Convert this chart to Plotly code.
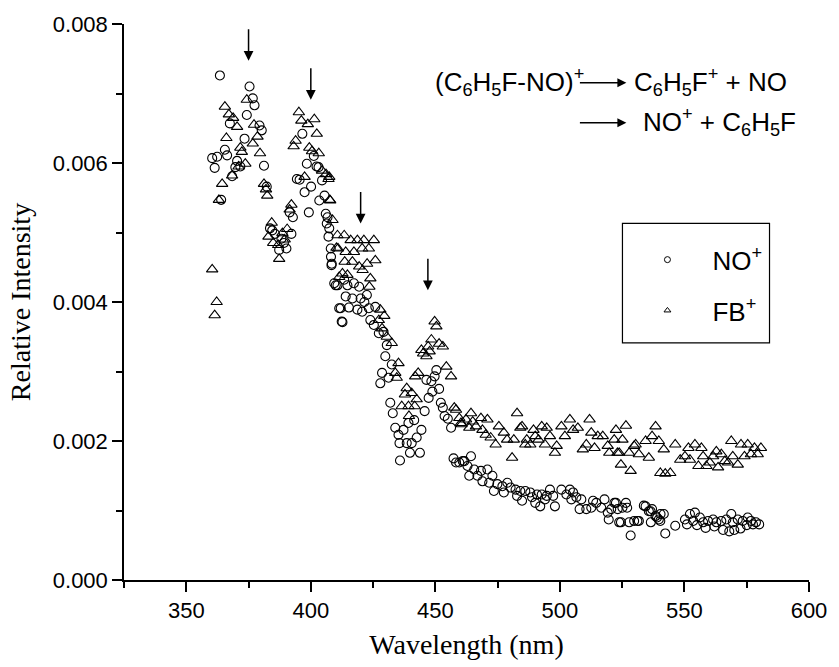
import plotly.graph_objects as go

# NO+ (circles): wavelength (nm), relative intensity
no_x = [360.4, 361.4, 362.4, 363.5, 364.0, 365.5, 366.4, 367.5, 368.4, 369.7, 370.4, 371.7, 373.4, 374.3,
        375.4, 376.7, 377.4, 379.4, 380.3, 381.2, 382.3, 383.6, 384.5, 385.6, 387.3, 388.2, 389.2, 390.2,
        391.5, 392.2, 392.8, 394.4, 395.5, 396.6, 397.5, 398.4, 399.2, 400.1, 401.2, 402.3, 403.1, 403.4,
        404.5, 405.5, 406.0, 406.4, 406.7, 407.1, 407.4, 408.0, 408.1, 408.3, 408.4, 409.4, 410.0, 410.7,
        411.4, 412.0, 412.4, 412.7, 413.4, 414.0, 414.7, 415.3, 416.7, 417.3, 418.7, 419.4, 420.0, 420.6,
        421.5, 422.5, 423.3, 423.9, 425.3, 425.9, 427.3, 427.9, 428.6, 429.2, 429.9, 430.5, 431.2, 431.9,
        432.5, 432.9, 433.9, 435.2, 435.6, 435.8, 437.2, 438.5, 439.2, 439.8, 440.5, 441.5, 442.5, 443.8,
        444.4, 445.7, 446.4, 447.3, 448.4, 448.8, 449.7, 450.4, 451.5, 452.2, 453.0, 453.7, 455.0, 456.3,
        457.3, 458.3, 459.6, 461.0, 461.6, 462.9, 463.6, 464.3, 465.6, 466.9, 468.3, 468.9, 470.9, 471.6,
        472.9, 473.5, 474.9, 476.9, 477.5, 478.9, 480.2, 482.2, 482.8, 484.1, 484.8, 486.1, 488.1, 488.8,
        490.1, 490.8, 492.1, 492.7, 494.0, 494.7, 496.0, 497.3, 498.0, 500.6, 502.6, 504.0, 504.6, 505.3,
        506.6, 507.9, 508.6, 510.6, 512.6, 513.3, 514.6, 516.6, 517.9, 519.2, 519.6, 520.6, 521.9, 522.5,
        523.2, 523.8, 524.5, 525.1, 526.5, 527.0, 527.8, 528.4, 529.8, 531.1, 531.7, 533.7, 534.4, 535.7,
        536.4, 536.5, 537.0, 538.4, 539.0, 539.7, 540.3, 540.4, 541.7, 542.3, 546.3, 550.2, 551.0, 552.2,
        553.5, 554.2, 555.0, 556.2, 557.5, 558.5, 559.5, 561.5, 562.0, 562.8, 564.8, 565.5, 566.8, 568.0,
        568.8, 569.4, 570.0, 571.4, 572.5, 573.4, 575.0, 575.4, 576.7, 577.5, 578.7, 580.0]
no_y = [0.00607, 0.00593, 0.00609, 0.00726, 0.00547, 0.00619, 0.00611, 0.00657, 0.00581, 0.00594, 0.00603,
        0.00595, 0.00635, 0.00669, 0.00710, 0.00693, 0.00683, 0.00654, 0.00647, 0.00596, 0.00566, 0.00506,
        0.00503, 0.00498, 0.00475, 0.00491, 0.00485, 0.00477, 0.00529, 0.00498, 0.00522, 0.00577, 0.00576,
        0.00642, 0.00558, 0.00599, 0.00529, 0.00566, 0.00610, 0.00595, 0.00594, 0.00546, 0.00575, 0.00553,
        0.00527, 0.00513, 0.00522, 0.00494, 0.00506, 0.00477, 0.00465, 0.00453, 0.00455, 0.00427, 0.00424,
        0.00424, 0.00391, 0.00391, 0.00372, 0.00371, 0.00432, 0.00408, 0.00424, 0.00392, 0.00405, 0.00427,
        0.00389, 0.00422, 0.00405, 0.00386, 0.00400, 0.00410, 0.00391, 0.00374, 0.00367, 0.00393, 0.00355,
        0.00283, 0.00298, 0.00357, 0.00322, 0.00338, 0.00291, 0.00255, 0.00310, 0.00240, 0.00219, 0.00209,
        0.00197, 0.00172, 0.00216, 0.00197, 0.00226, 0.00183, 0.00197, 0.00230, 0.00205, 0.00183, 0.00216,
        0.00243, 0.00288, 0.00262, 0.00286, 0.00271, 0.00293, 0.00302, 0.00275, 0.00255, 0.00248, 0.00236,
        0.00232, 0.00219, 0.00175, 0.00169, 0.00169, 0.00171, 0.00171, 0.00164, 0.00150, 0.00178, 0.00159,
        0.00150, 0.00157, 0.00142, 0.00159, 0.00140, 0.00150, 0.00128, 0.00138, 0.00135, 0.00126, 0.00140,
        0.00133, 0.00130, 0.00121, 0.00128, 0.00114, 0.00128, 0.00126, 0.00119, 0.00111, 0.00123, 0.00106,
        0.00123, 0.00116, 0.00121, 0.00130, 0.00121, 0.00106, 0.00130, 0.00123, 0.00130, 0.00116, 0.00126,
        0.00119, 0.00102, 0.00116, 0.00102, 0.00104, 0.00114, 0.00111, 0.00104, 0.00116, 0.00097, 0.00087,
        0.00102, 0.00111, 0.00111, 0.00102, 0.00083, 0.00083, 0.00104, 0.00111, 0.00104, 0.00083, 0.00064,
        0.00085, 0.00085, 0.00085, 0.00107, 0.00106, 0.00099, 0.00099, 0.00083, 0.00102, 0.00092, 0.00090,
        0.00087, 0.00085, 0.00095, 0.00095, 0.00067, 0.00078, 0.00087, 0.00080, 0.00095, 0.00085, 0.00097,
        0.00079, 0.00090, 0.00083, 0.00075, 0.00085, 0.00087, 0.00077, 0.00083, 0.00085, 0.00072, 0.00087,
        0.00070, 0.00095, 0.00083, 0.00072, 0.00087, 0.00074, 0.00085, 0.00079, 0.00090, 0.00085, 0.00080,
        0.00083, 0.00080]

# FB+ (triangles)
fb_x = [360.4, 361.4, 362.2, 363.1, 364.4, 365.5, 366.1, 367.1, 368.4, 368.8, 370.4, 371.0, 371.7, 372.3,
        373.7, 374.3, 376.7, 377.2, 378.6, 379.6, 381.2, 382.0, 382.5, 383.0, 384.3, 384.9, 386.9, 387.3,
        388.6, 389.5, 390.5, 391.5, 392.2, 393.1, 393.9, 395.2, 396.2, 397.5, 398.8, 399.4, 400.5, 401.4,
        402.4, 403.2, 404.5, 406.1, 407.1, 407.4, 407.6, 407.8, 408.7, 410.3, 410.7, 410.9, 411.4, 412.7,
        413.4, 413.6, 414.0, 414.7, 416.0, 416.7, 417.3, 418.7, 419.4, 420.6, 420.8, 421.3, 422.6, 423.3,
        423.5, 423.9, 425.3, 425.9, 427.3, 427.9, 428.6, 429.5, 430.5, 432.5, 433.9, 434.5, 435.2, 436.5,
        437.8, 438.5, 439.2, 439.4, 440.5, 441.7, 441.9, 442.5, 443.1, 444.4, 445.1, 446.4, 447.1, 447.7,
        448.4, 449.7, 450.4, 451.5, 453.0, 454.4, 456.3, 457.6, 458.3, 459.6, 460.3, 460.5, 462.3, 463.6,
        464.3, 465.0, 466.3, 468.3, 468.9, 470.2, 470.9, 472.2, 474.2, 475.5, 477.5, 478.8, 480.8, 481.5,
        482.8, 484.1, 484.8, 486.1, 486.7, 488.1, 489.4, 490.1, 491.4, 492.7, 494.0, 494.7, 496.0, 498.0,
        498.7, 500.6, 502.0, 504.0, 505.3, 507.2, 509.2, 510.6, 511.9, 512.6, 513.9, 515.2, 517.2, 519.2,
        519.8, 521.8, 522.5, 523.1, 523.8, 524.5, 525.1, 526.5, 527.8, 528.4, 529.8, 530.4, 531.7, 534.4,
        535.7, 537.0, 538.4, 539.7, 540.3, 541.7, 542.3, 544.3, 546.3, 548.3, 550.2, 551.6, 552.2, 554.2,
        555.6, 556.8, 557.5, 558.8, 560.2, 561.5, 562.8, 563.5, 564.8, 566.2, 567.5, 568.8, 569.4, 571.4,
        572.7, 574.1, 575.4, 576.7, 578.1, 579.4, 580.7]
fb_y = [0.00447, 0.00381, 0.00400, 0.00547, 0.00570, 0.00681, 0.00636, 0.00670, 0.00582, 0.00665, 0.00652,
        0.00595, 0.00622, 0.00616, 0.00599, 0.00691, 0.00628, 0.00655, 0.00638, 0.00614, 0.00570, 0.00562,
        0.00553, 0.00494, 0.00514, 0.00485, 0.00482, 0.00462, 0.00499, 0.00490, 0.00505, 0.00533, 0.00540,
        0.00624, 0.00632, 0.00673, 0.00661, 0.00580, 0.00656, 0.00622, 0.00617, 0.00663, 0.00642, 0.00614,
        0.00589, 0.00584, 0.00577, 0.00580, 0.00547, 0.00546, 0.00518, 0.00478, 0.00496, 0.00477, 0.00436,
        0.00441, 0.00496, 0.00458, 0.00472, 0.00439, 0.00489, 0.00458, 0.00472, 0.00489, 0.00451, 0.00477,
        0.00446, 0.00489, 0.00455, 0.00477, 0.00422, 0.00434, 0.00489, 0.00460, 0.00374, 0.00389, 0.00362,
        0.00380, 0.00350, 0.00341, 0.00298, 0.00291, 0.00312, 0.00250, 0.00267, 0.00276, 0.00250, 0.00236,
        0.00269, 0.00250, 0.00293, 0.00260, 0.00298, 0.00331, 0.00326, 0.00322, 0.00336, 0.00329, 0.00346,
        0.00372, 0.00365, 0.00340, 0.00336, 0.00307, 0.00293, 0.00248, 0.00245, 0.00233, 0.00226, 0.00224,
        0.00231, 0.00219, 0.00240, 0.00228, 0.00221, 0.00233, 0.00216, 0.00209, 0.00231, 0.00205, 0.00195,
        0.00221, 0.00212, 0.00202, 0.00176, 0.00202, 0.00240, 0.00219, 0.00221, 0.00195, 0.00202, 0.00195,
        0.00216, 0.00207, 0.00202, 0.00221, 0.00195, 0.00219, 0.00207, 0.00183, 0.00193, 0.00221, 0.00207,
        0.00231, 0.00216, 0.00219, 0.00188, 0.00195, 0.00231, 0.00212, 0.00190, 0.00207, 0.00207, 0.00193,
        0.00183, 0.00202, 0.00216, 0.00183, 0.00183, 0.00166, 0.00202, 0.00222, 0.00183, 0.00157, 0.00193,
        0.00195, 0.00181, 0.00200, 0.00176, 0.00207, 0.00221, 0.00200, 0.00154, 0.00188, 0.00153, 0.00154,
        0.00195, 0.00173, 0.00178, 0.00190, 0.00173, 0.00195, 0.00164, 0.00190, 0.00178, 0.00164, 0.00169,
        0.00178, 0.00185, 0.00162, 0.00181, 0.00171, 0.00169, 0.00200, 0.00178, 0.00166, 0.00195, 0.00178,
        0.00195, 0.00181, 0.00190, 0.00181, 0.00190]

# peak markers (arrows)
arrow_x = [375, 400, 420, 447]
arrow_y = [0.00747, 0.00691, 0.00513, 0.00417]

x_ticks = [350, 400, 450, 500, 550, 600]
y_ticks = [0.000, 0.002, 0.004, 0.006, 0.008]
series_names = ["NO<sup>+</sup>", "FB<sup>+</sup>"]

SANS = "Liberation Sans, Arial, sans-serif"
SERIF = "Liberation Serif, Times New Roman, serif"

fig = go.Figure()
fig.add_trace(go.Scatter(x=no_x, y=no_y, mode="markers", showlegend=False,
                         marker=dict(symbol="circle-open", size=9, color="black", line=dict(width=1.1))))
fig.add_trace(go.Scatter(x=fb_x, y=fb_y, mode="markers", showlegend=False,
                         marker=dict(symbol="triangle-up-open", size=10, color="black", line=dict(width=1.1))))
# legend-only entries with the small legend symbols
fig.add_trace(go.Scatter(x=[None], y=[None], mode="markers", name=series_names[0], legendgroup="a",
                         marker=dict(symbol="circle-open", size=6, color="black", line=dict(width=1))))
fig.add_trace(go.Scatter(x=[None], y=[None], mode="markers", name=series_names[1], legendgroup="b",
                         marker=dict(symbol="triangle-up-open", size=6, color="black", line=dict(width=1))))

for ax_, ay_ in zip(arrow_x, arrow_y):
    fig.add_annotation(x=ax_, y=ay_, xref="x", yref="y", text="", showarrow=True,
                       ax=0, ay=-33, arrowhead=2, arrowsize=1.3, arrowwidth=1.5, arrowcolor="black")

W_PLOT = 694.0
H_PLOT = 558.0
def px(xp):
    return (xp - 124) / W_PLOT
def py(yp):
    return (581 - yp) / H_PLOT

txt_font = dict(family=SANS, size=26, color="black")
fig.add_annotation(x=px(437), y=py(81), xref="paper", yref="paper", xanchor="left", yanchor="middle",
                   text="(C<sub>6</sub>H<sub>5</sub>F-NO)<sup>+</sup>", showarrow=False, font=txt_font)
fig.add_annotation(x=px(633), y=py(82), xref="paper", yref="paper", text="", showarrow=True,
                   ax=-48, ay=0, arrowhead=2, arrowsize=1.2, arrowwidth=1.5, arrowcolor="black")
fig.add_annotation(x=px(639), y=py(81), xref="paper", yref="paper", xanchor="left", yanchor="middle",
                   text="C<sub>6</sub>H<sub>5</sub>F<sup>+</sup> + NO", showarrow=False, font=txt_font)
fig.add_annotation(x=px(633), y=py(122), xref="paper", yref="paper", text="", showarrow=True,
                   ax=-48, ay=0, arrowhead=2, arrowsize=1.2, arrowwidth=1.5, arrowcolor="black")
fig.add_annotation(x=px(648), y=py(121), xref="paper", yref="paper", xanchor="left", yanchor="middle",
                   text="NO<sup>+</sup> + C<sub>6</sub>H<sub>5</sub>F", showarrow=False, font=txt_font)

# legend box
fig.add_shape(type="rect", xref="paper", yref="paper", x0=px(629), x1=px(778), y0=py(343), y1=py(223),
              line=dict(color="black", width=1.2), fillcolor="rgba(0,0,0,0)")

fig.update_layout(
    width=839, height=667,
    margin=dict(l=124, r=21, t=23, b=86),
    paper_bgcolor="white", plot_bgcolor="white",
    showlegend=True,
    legend=dict(x=px(629), y=py(236), xanchor="left", yanchor="top", bgcolor="rgba(0,0,0,0)",
                borderwidth=0, font=dict(family=SANS, size=26, color="black"),
                itemwidth=80, tracegroupgap=14),
    xaxis=dict(range=[325, 600], tickvals=x_ticks, ticks="outside", ticklen=10, tickwidth=1.5,
               tickcolor="black", showline=True, linecolor="black", linewidth=1.5,
               showgrid=False, zeroline=False, tickfont=dict(family=SANS, size=22, color="black"),
               minor=dict(dtick=25, ticks="outside", ticklen=6, tickwidth=1.5, tickcolor="black", showgrid=False),
               title=dict(text="Wavelength (nm)", font=dict(family=SERIF, size=28, color="black"), standoff=12)),
    yaxis=dict(range=[0, 0.008], tickvals=y_ticks, tickformat=".3f", ticks="outside", ticklen=10,
               tickwidth=1.5, tickcolor="black", showline=True, linecolor="black", linewidth=1.5,
               showgrid=False, zeroline=False, tickfont=dict(family=SANS, size=22, color="black"),
               minor=dict(dtick=0.001, ticks="outside", ticklen=6, tickwidth=1.5, tickcolor="black", showgrid=False),
               title=dict(text="Relative Intensity", font=dict(family=SERIF, size=28, color="black"), standoff=14)),
)

fig.write_html("out.html")
